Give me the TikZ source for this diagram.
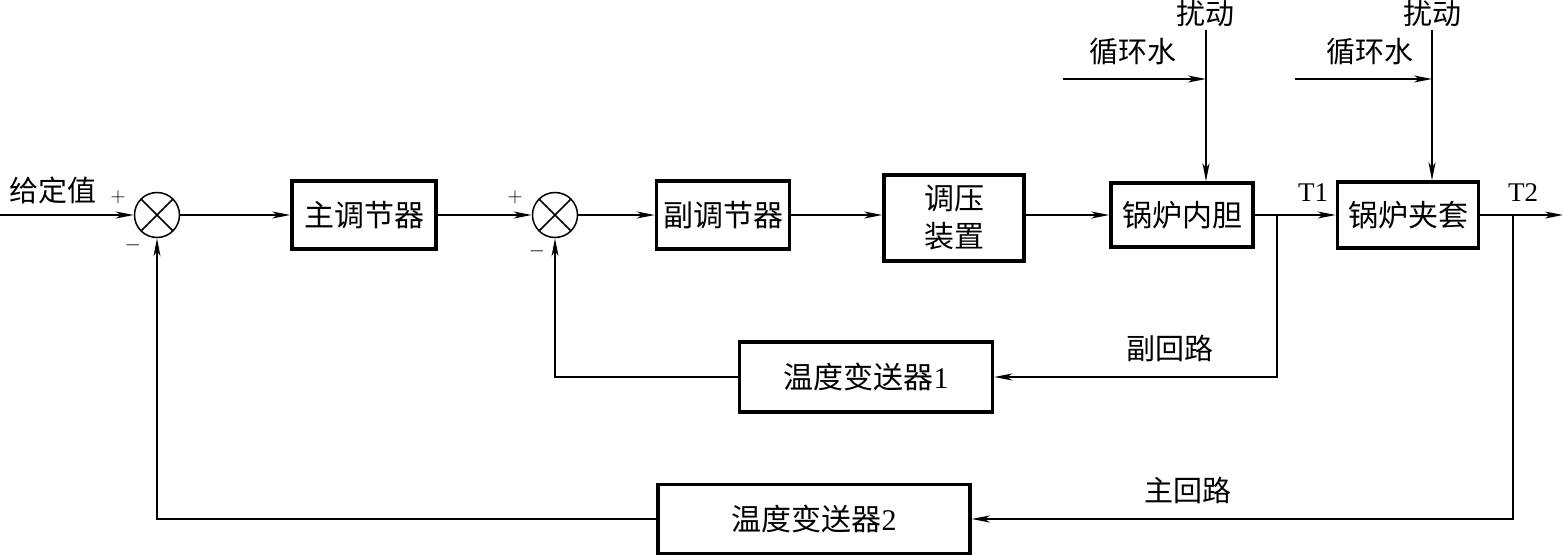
\documentclass[tikz,border=0pt]{standalone}
\usepackage{fontspec}
\setmainfont{Liberation Serif}
\newfontfamily\cjk{Noto Sans CJK SC}
\usetikzlibrary{arrows.meta, positioning}

\tikzset{
	block/.style={draw, line width=3.5pt, minimum height=68pt, inner sep=0pt, align=center, font=\cjk\fontsize{30}{38}\selectfont},
	sumnode/.style={draw, circle, line width=1.5pt, minimum size=45pt, inner sep=0pt,
		path picture={\draw[line width=1.5pt] (path picture bounding box.north west) -- (path picture bounding box.south east)
			(path picture bounding box.north east) -- (path picture bounding box.south west);}},
	lbl/.style={inner sep=0pt, font=\cjk\fontsize{29}{34}\selectfont},
	sgn/.style={inner sep=0pt, font=\fontsize{22}{24}\selectfont},
	tlbl/.style={inner sep=0pt, font=\fontsize{27}{30}\selectfont},
	wire/.style={line width=1.5pt},
	sig/.style={line width=1.5pt, -{Stealth[length=18pt, width=7pt, inset=5pt]}}
}

\begin{document}
\begin{tikzpicture}[x=1pt, y=-1pt]
	\useasboundingbox (0,0) rectangle (1563,556);
	
	% forward path
	\coordinate (in) at (0,215);
	\node[sumnode] (s1) at (157,215) {};
	\node[block, minimum width=144pt] (zhu) at (364,215) {主调节器};
	\node[sumnode] (s2) at (555,215) {};
	\node[block, minimum width=133pt] (fu) at (723,215) {副调节器};
	\node[block, minimum width=140pt, minimum height=86pt] (ty) at (954,218) {调压\\装置};
	\node[block, minimum width=142pt, minimum height=64pt] (gl1) at (1182,215) {锅炉内胆};
	\node[block, minimum width=141pt, minimum height=66pt] (gl2) at (1408,215) {锅炉夹套};
	\coordinate (out) at (1563,215);
	
	\draw[sig] (in) -- (s1.west);
	\draw[sig] (s1.east) -- (zhu.west);
	\draw[sig] (zhu.east) -- (s2.west);
	\draw[sig] (s2.east) -- (fu.west);
	\draw[sig] (fu.east) -- (fu.east -| ty.west);
	\draw[sig] (ty.east |- gl1.west) -- (gl1.west);
	\draw[sig] (gl1.east) -- (gl2.west);
	\draw[sig] (gl2.east) -- (out);
	
	\node[lbl] (gdz) at (53,190) {给定值};
	\node[sgn] (p1) at (118,197) {$+$};
	\node[sgn] (m1) at (133,245) {$-$};
	\node[sgn] (p2) at (515,197) {$+$};
	\node[sgn] (m2) at (537,251) {$-$};
	\node[tlbl] (t1) at (1313,193) {T1};
	\node[tlbl] (t2) at (1523,193) {T2};
	
	% disturbances
	\coordinate (d1) at (1206,30);
	\coordinate (w1) at (1063,79);
	\coordinate (d2) at (1432,30);
	\coordinate (w2) at (1295,79);
	\draw[sig] (d1) -- (d1 |- gl1.north);
	\draw[sig] (w1) -- (w1 -| d1);
	\draw[sig] (d2) -- (d2 |- gl2.north);
	\draw[sig] (w2) -- (w2 -| d2);
	\node[lbl] (rd1) at (1205,13) {扰动};
	\node[lbl] (xh1) at (1133,52) {循环水};
	\node[lbl] (rd2) at (1432,13) {扰动};
	\node[lbl] (xh2) at (1370,52) {循环水};
	
	% feedback loops
	\node[block, minimum width=253pt, minimum height=70pt] (tm1) at (866,377) {温度变送器{\rmfamily 1}};
	\node[block, minimum width=312pt, minimum height=69pt] (tm2) at (814,519) {温度变送器{\rmfamily 2}};
	\coordinate (b1) at (1277,215);
	\coordinate (b2) at (1513,215);
	\draw[sig] (b1) |- (tm1.east);
	\draw[sig] (tm1.west) -| (s2.south);
	\draw[sig] (b2) |- (tm2.east);
	\draw[sig] (tm2.west) -| (s1.south);
	\node[lbl] (fhl) at (1170,348) {副回路};
	\node[lbl] (zhl) at (1188,490) {主回路};
\end{tikzpicture}
\end{document}
